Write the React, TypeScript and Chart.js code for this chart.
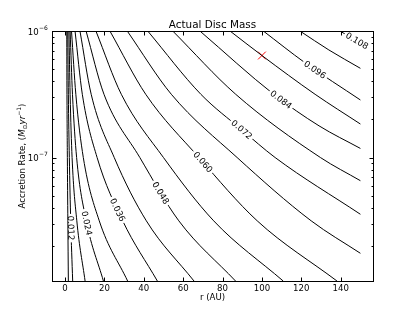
import React, { useEffect, useRef } from 'react';
import { Chart, registerables } from 'chart.js';

Chart.register(...registerables);

const TITLE = 'Actual Disc Mass';
const X_LABEL = 'r (AU)';

const X_MIN = -6.6;
const X_MAX = 156.4;
const Y_MIN = 1.057e-8;
const Y_MAX = 1e-6;

const X_TICKS = [0, 20, 40, 60, 80, 100, 120, 140];
const Y_MAJOR_TICKS = [1e-7, 1e-6];
const Y_TICK_EXPONENTS = ['\u22127', '\u22126'];

// accretion-rate rows at which the radii of the contours were read
const MDOT_ROWS = [1e-6, 3.16e-7, 1e-7, 3.16e-8, 1.057e-8];

// radii (AU) of contours that reach the bottom edge, at MDOT_ROWS
const R_0006 = [0.9, 1.0, 1.2, 1.45, 1.7];
const R_0012 = [1.4, 1.7, 2.2, 2.9, 3.9];
const R_0018 = [2.0, 2.6, 3.6, 6.0, 10.2];
const R_0024 = [2.6, 3.8, 5.9, 10.8, 19.5];
const R_0030 = [3.3, 5.5, 9.3, 17.4, 31.8];
const R_0036 = [5.1, 8.8, 16.3, 29.3, 46.9];
const R_0042 = [7.6, 13.3, 25.0, 41.3, 65.5];
const R_0048 = [10.7, 19.8, 38.0, 57.8, 86.6];
const R_0054 = [15.7, 28.6, 50.0, 75.5, 110.8];
const R_0060 = [22.8, 41.0, 68.0, 97.6, 138.1];

// contours that leave through the right edge: [r (AU), Mdot]
const C_0066 = [[31.6, 1e-6], [54, 3.16e-7], [87.4, 1e-7], [125, 3.16e-8], [150, 1.75e-8]];
const C_0072 = [[42, 1e-6], [69, 3.16e-7], [89.7, 1.66e-7], [106.7, 1e-7], [150, 3.56e-8]];
const C_0078 = [[54.7, 1e-6], [86.7, 3.16e-7], [129.7, 1e-7], [150, 6.56e-8]];
const C_0084 = [[68.5, 1e-6], [106, 3.16e-7], [129, 1.78e-7], [150, 1.18e-7]];
const C_0090 = [[83.8, 1e-6], [100, 6.4e-7], [127, 3.16e-7], [150, 1.84e-7]];
const C_0096 = [[100.7, 1e-6], [121.8, 5.62e-7], [150, 2.85e-7]];
const C_0102 = [[119.3, 1e-6], [134, 7.08e-7], [150, 5.07e-7]];
const C_0108 = [[139.6, 1e-6], [150, 8.04e-7]];

const LEVELS = [0.006, 0.012, 0.018, 0.024, 0.03, 0.036, 0.042, 0.048, 0.054, 0.06,
  0.066, 0.072, 0.078, 0.084, 0.09, 0.096, 0.102, 0.108];

const LABELED_LEVELS = [0.012, 0.024, 0.036, 0.048, 0.06, 0.072, 0.084, 0.096, 0.108];
const LABEL_MDOT = [2.77e-8, 3.03e-8, 3.85e-8, 5.24e-8, 9.2e-8, 1.66e-7, 2.86e-7, 4.94e-7, 8.34e-7];

const MARKER_R = [100];
const MARKER_MDOT = [6.4e-7];

const rowsToPairs = (rs: number[]) => rs.map((r, i) => [r, MDOT_ROWS[i]]);

const CONTOURS: number[][][] = [
  rowsToPairs(R_0006), rowsToPairs(R_0012), rowsToPairs(R_0018), rowsToPairs(R_0024),
  rowsToPairs(R_0030), rowsToPairs(R_0036), rowsToPairs(R_0042), rowsToPairs(R_0048),
  rowsToPairs(R_0054), rowsToPairs(R_0060),
  C_0066, C_0072, C_0078, C_0084, C_0090, C_0096, C_0102, C_0108,
];

const FONT = '"DejaVu Sans", "Bitstream Vera Sans", sans-serif';
const TICK_FONT_PX = 8.6;
const LABEL_FONT_PX = 8.6;

function bez(p0: number, p1: number, p2: number, p3: number, t: number) {
  const u = 1 - t;
  return u * u * u * p0 + 3 * u * u * t * p1 + 3 * u * t * t * p2 + t * t * t * p3;
}
function dbez(p0: number, p1: number, p2: number, p3: number, t: number) {
  const u = 1 - t;
  return 3 * u * u * (p1 - p0) + 6 * u * t * (p2 - p1) + 3 * t * t * (p3 - p2);
}

const decorPlugin = {
  id: 'contourDecor',
  beforeDatasetDraw(chart: any, args: any) {
    const ds = chart.data.datasets[args.index];
    if (ds.labelText == null) return;
    const meta = args.meta;
    if (meta.dataset && meta.dataset.updateControlPoints) {
      meta.dataset.updateControlPoints(chart.chartArea, 'x');
    }
    const pts = meta.data;
    const Y = chart.scales.y.getPixelForValue(ds.labelMdot);
    let gx = pts[pts.length - 1].x, gy = pts[pts.length - 1].y, ang = 0;
    let found = false;
    for (let i = 0; i < pts.length - 1 && !found; i++) {
      const a = pts[i], b = pts[i + 1];
      if ((a.y - Y) * (b.y - Y) <= 0) {
        const x0 = a.x, y0 = a.y, x3 = b.x, y3 = b.y;
        const x1 = a.cp2x ?? a.x, y1 = a.cp2y ?? a.y;
        const x2 = b.cp1x ?? b.x, y2 = b.cp1y ?? b.y;
        let lo = 0, hi = 1;
        const sgn = y3 >= y0 ? 1 : -1;
        for (let k = 0; k < 50; k++) {
          const m = (lo + hi) / 2;
          if ((bez(y0, y1, y2, y3, m) - Y) * sgn < 0) lo = m; else hi = m;
        }
        const t = (lo + hi) / 2;
        gx = bez(x0, x1, x2, x3, t);
        gy = bez(y0, y1, y2, y3, t);
        ang = Math.atan2(dbez(y0, y1, y2, y3, t), dbez(x0, x1, x2, x3, t));
        found = true;
      }
    }
    if (ang > Math.PI / 2) ang -= Math.PI;
    if (ang < -Math.PI / 2) ang += Math.PI;
    const ctx = chart.ctx;
    ctx.save();
    ctx.font = `${LABEL_FONT_PX}px ${FONT}`;
    const w = ctx.measureText(ds.labelText).width;
    ctx.restore();
    chart.$labels = chart.$labels || {};
    chart.$labels[args.index] = { x: gx, y: gy, ang, text: ds.labelText };
    const hw = w / 2 + 2;
    const hh = 4.5;
    const ux = Math.cos(ang), uy = Math.sin(ang);
    const vx = -uy, vy = ux;
    ctx.save();
    ctx.beginPath();
    ctx.rect(0, 0, chart.width, chart.height);
    ctx.moveTo(gx - ux * hw - vx * hh, gy - uy * hw - vy * hh);
    ctx.lineTo(gx + ux * hw - vx * hh, gy + uy * hw - vy * hh);
    ctx.lineTo(gx + ux * hw + vx * hh, gy + uy * hw + vy * hh);
    ctx.lineTo(gx - ux * hw + vx * hh, gy - uy * hw + vy * hh);
    ctx.closePath();
    ctx.clip('evenodd');
  },
  afterDatasetDraw(chart: any, args: any) {
    const ds = chart.data.datasets[args.index];
    if (ds.labelText == null) return;
    chart.ctx.restore();
  },
  afterDatasetsDraw(chart: any) {
    const ctx = chart.ctx;
    const labels = chart.$labels || {};
    ctx.save();
    ctx.fillStyle = '#000';
    ctx.font = `${LABEL_FONT_PX}px ${FONT}`;
    ctx.textAlign = 'center';
    ctx.textBaseline = 'middle';
    Object.keys(labels).forEach((k) => {
      const L = labels[k];
      ctx.save();
      ctx.translate(L.x, L.y);
      ctx.rotate(L.ang);
      ctx.fillText(L.text, 0, 0.5);
      ctx.restore();
    });
    ctx.restore();
  },
  afterDraw(chart: any) {
    const ctx = chart.ctx;
    const { left, right, top, bottom } = chart.chartArea;
    const xs = chart.scales.x;
    const ys = chart.scales.y;
    ctx.save();
    ctx.strokeStyle = '#000';
    ctx.lineWidth = 1;
    ctx.strokeRect(left + 0.5, top + 0.5, right - left, bottom - top);

    const major = 4;
    const minor = 2;
    ctx.beginPath();
    X_TICKS.forEach((v) => {
      const px = Math.round(xs.getPixelForValue(v)) + 0.5;
      ctx.moveTo(px, bottom + 0.5);
      ctx.lineTo(px, bottom + 0.5 - major);
      ctx.moveTo(px, top + 0.5);
      ctx.lineTo(px, top + 0.5 + major);
    });
    Y_MAJOR_TICKS.forEach((v) => {
      const py = Math.round(ys.getPixelForValue(v)) + 0.5;
      ctx.moveTo(left + 0.5, py);
      ctx.lineTo(left + 0.5 + major, py);
      ctx.moveTo(right + 0.5, py);
      ctx.lineTo(right + 0.5 - major, py);
    });
    for (let e = -8; e <= -7; e++) {
      for (let m = 2; m <= 9; m++) {
        const v = m * Math.pow(10, e);
        if (v < Y_MIN || v > Y_MAX) continue;
        const py = Math.round(ys.getPixelForValue(v)) + 0.5;
        ctx.moveTo(left + 0.5, py);
        ctx.lineTo(left + 0.5 + minor, py);
        ctx.moveTo(right + 0.5, py);
        ctx.lineTo(right + 0.5 - minor, py);
      }
    }
    ctx.stroke();

    ctx.fillStyle = '#000';
    ctx.font = `${TICK_FONT_PX}px ${FONT}`;
    ctx.textAlign = 'center';
    ctx.textBaseline = 'alphabetic';
    X_TICKS.forEach((v) => {
      ctx.fillText(String(v), xs.getPixelForValue(v), 291);
    });

    Y_MAJOR_TICKS.forEach((v, i) => {
      const py = ys.getPixelForValue(v);
      ctx.font = `${TICK_FONT_PX}px ${FONT}`;
      const w10 = ctx.measureText('10').width;
      ctx.font = `6px ${FONT}`;
      const we = ctx.measureText(Y_TICK_EXPONENTS[i]).width;
      const x0 = left - 4.5 - w10 - we;
      ctx.textAlign = 'left';
      ctx.font = `${TICK_FONT_PX}px ${FONT}`;
      ctx.fillText('10', x0, py + 3.5);
      ctx.font = `6px ${FONT}`;
      ctx.fillText(Y_TICK_EXPONENTS[i], x0 + w10 + 0.3, py - 1.5);
    });

    // title
    ctx.textAlign = 'center';
    ctx.font = `10.4px ${FONT}`;
    ctx.fillText(TITLE, (left + right) / 2, 28);

    // x label
    ctx.font = `${TICK_FONT_PX}px ${FONT}`;
    ctx.fillText(X_LABEL, (left + right) / 2, 300);

    // y label with sub/superscripts
    const pieces = [
      { t: 'Accretion Rate, (', f: `${TICK_FONT_PX}px ${FONT}`, dy: 0 },
      { t: 'M', f: `italic ${TICK_FONT_PX}px ${FONT}`, dy: 0 },
      { t: '\u2299', f: `6px ${FONT}`, dy: 1.8 },
      { t: 'yr', f: `italic ${TICK_FONT_PX}px ${FONT}`, dy: 0 },
      { t: '\u22121', f: `6px ${FONT}`, dy: -3.6 },
      { t: ')', f: `${TICK_FONT_PX}px ${FONT}`, dy: 0 },
    ];
    let total = 0;
    const widths = pieces.map((p) => {
      ctx.font = p.f;
      const w = ctx.measureText(p.t).width;
      total += w;
      return w;
    });
    ctx.save();
    ctx.translate(25, (top + bottom) / 2);
    ctx.rotate(-Math.PI / 2);
    ctx.textAlign = 'left';
    let cx = -total / 2;
    pieces.forEach((p, i) => {
      ctx.font = p.f;
      ctx.fillText(p.t, cx, p.dy);
      cx += widths[i];
    });
    ctx.restore();
    ctx.restore();
  },
};

function buildDatasets() {
  const sets: any[] = CONTOURS.map((pts, i) => {
    const level = LEVELS[i];
    const li = LABELED_LEVELS.findIndex((l) => Math.abs(l - level) < 1e-9);
    return {
      data: pts.map(([x, y]) => ({ x, y })),
      borderColor: '#000',
      borderWidth: 1,
      pointRadius: 0,
      pointHoverRadius: 0,
      fill: false,
      cubicInterpolationMode: 'monotone',
      labelText: li >= 0 ? level.toFixed(3) : undefined,
      labelMdot: li >= 0 ? LABEL_MDOT[li] : undefined,
    };
  });
  sets.push({
    data: MARKER_R.map((r, i) => ({ x: r, y: MARKER_MDOT[i] })),
    showLine: false,
    pointStyle: 'crossRot',
    pointRadius: 5.5,
    pointBorderColor: '#ff0000',
    pointBackgroundColor: '#ff0000',
    pointBorderWidth: 1,
    borderColor: '#ff0000',
  });
  return sets;
}

export default function App() {
  const ref = useRef<HTMLCanvasElement>(null);
  useEffect(() => {
    document.body.style.margin = '0';
    const canvas = ref.current;
    if (!canvas) return;
    const chart = new Chart(canvas, {
      type: 'line',
      data: { datasets: buildDatasets() },
      options: {
        animation: false,
        responsive: true,
        maintainAspectRatio: false,
        events: [],
        layout: { padding: { left: 0, top: 31, right: 42, bottom: 0 } },
        plugins: {
          legend: { display: false },
          title: { display: false },
          tooltip: { enabled: false },
        },
        scales: {
          x: {
            type: 'linear',
            min: X_MIN,
            max: X_MAX,
            bounds: 'data',
            grid: { display: false },
            border: { display: false },
            ticks: { display: false },
            afterFit: (s: any) => { s.height = 32; },
          },
          y: {
            type: 'logarithmic',
            min: Y_MIN,
            max: Y_MAX,
            bounds: 'data',
            grid: { display: false },
            border: { display: false },
            ticks: { display: false },
            afterFit: (s: any) => { s.width = 52; },
          },
        },
      } as any,
      plugins: [decorPlugin as any],
    });
    return () => chart.destroy();
  }, []);
  return (
    <div style={{ width: 415, height: 313, position: 'relative' }}>
      <canvas ref={ref} />
    </div>
  );
}
